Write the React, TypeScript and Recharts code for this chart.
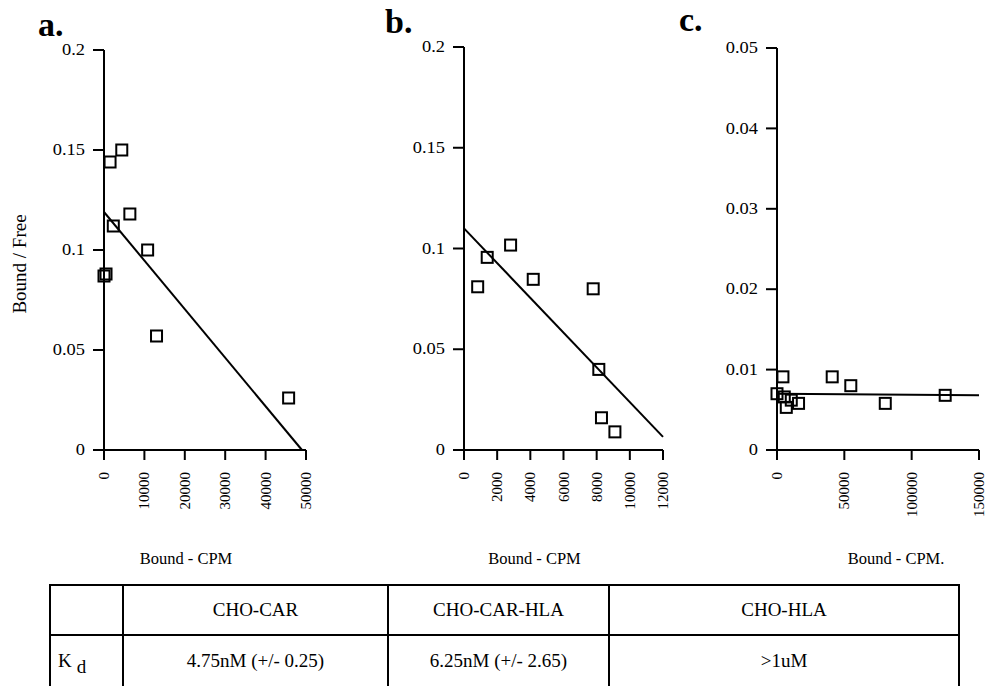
import React from "react";
import { ComposedChart, Scatter, Line, XAxis, YAxis } from "recharts";

const INK = "#000";
const SERIF = "'Liberation Serif', 'Times New Roman', serif";

// panel a: CHO-CAR
const boundA = [0, 500, 1500, 2300, 4400, 6400, 10800, 13000, 45700];
const ratioA = [0.087, 0.088, 0.144, 0.112, 0.15, 0.118, 0.1, 0.057, 0.026];
const fitBoundA = [0, 49000];
const fitRatioA = [0.119, 0];
const xTicksA = [0, 10000, 20000, 30000, 40000, 50000];
const yTicksA = [0, 0.05, 0.1, 0.15, 0.2];

// panel b: CHO-CAR-HLA
const boundB = [825, 1400, 2810, 4175, 7790, 8130, 8290, 9100];
const ratioB = [0.081, 0.0956, 0.1017, 0.0847, 0.08, 0.04, 0.016, 0.009];
const fitBoundB = [0, 12000];
const fitRatioB = [0.11, 0.0065];
const xTicksB = [0, 2000, 4000, 6000, 8000, 10000, 12000];
const yTicksB = [0, 0.05, 0.1, 0.15, 0.2];

// panel c: CHO-HLA
const boundC = [0, 4400, 5400, 6900, 10600, 16000, 41000, 54800, 80400, 124900];
const ratioC = [0.007, 0.0091, 0.0066, 0.0053, 0.0062, 0.0058, 0.0091, 0.008, 0.0058, 0.0068];
const fitBoundC = [0, 150000];
const fitRatioC = [0.007, 0.0068];
const xTicksC = [0, 50000, 100000, 150000];
const yTicksC = [0, 0.01, 0.02, 0.03, 0.04, 0.05];

// Kd table
const cellLines = ["CHO-CAR", "CHO-CAR-HLA", "CHO-HLA"];
const kdValues = ["4.75nM (+/- 0.25)", "6.25nM (+/- 2.65)", ">1uM"];

const zip = (xs: number[], ys: number[]) => xs.map((x, i) => ({ x, y: ys[i] }));

function Square(props: any) {
  const { cx, cy } = props;
  if (cx == null || cy == null) return null;
  return (
    <rect x={cx - 5.5} y={cy - 5.5} width={11} height={11} fill="none" stroke={INK} strokeWidth={2} />
  );
}

function YTick({ x, y, payload }: any) {
  return (
    <text
      transform={`translate(${x},${y}) scale(1.15,1)`}
      textAnchor="end"
      dominantBaseline="central"
      fontFamily={SERIF}
      fontSize={16}
      fill={INK}
    >
      {String(payload.value)}
    </text>
  );
}

function XTick({ x, y, payload }: any) {
  return (
    <text
      transform={`translate(${x},${y}) rotate(-90)`}
      textAnchor="end"
      dominantBaseline="central"
      fontFamily={SERIF}
      fontSize={15}
      fill={INK}
    >
      {String(payload.value)}
    </text>
  );
}

type PanelProps = {
  left: number;
  width: number;
  top: number;
  right: number;
  points: { x: number; y: number }[];
  fit: { x: number; y: number }[];
  xTicks: number[];
  yTicks: number[];
  xTitle: string;
  xTitleDx: number;
  yTitle?: string;
};

function Panel({ left, width, top, right, points, fit, xTicks, yTicks, xTitle, xTitleDx, yTitle }: PanelProps) {
  const axisStyle = { stroke: INK, strokeWidth: 2 };
  return (
    <div style={{ position: "absolute", left, top: 0 }}>
      <ComposedChart width={width} height={570} margin={{ top, right, left: 0, bottom: 0 }}>
        <XAxis
          type="number"
          dataKey="x"
          domain={[xTicks[0], xTicks[xTicks.length - 1]]}
          ticks={xTicks}
          interval={0}
          height={120}
          axisLine={axisStyle}
          tickLine={axisStyle}
          tickSize={10}
          tickMargin={12}
          tick={<XTick />}
          label={{
            value: xTitle,
            position: "insideBottom",
            offset: 6,
            dx: xTitleDx,
            fill: INK,
            fontFamily: SERIF,
            fontSize: 16.5,
          }}
        />
        <YAxis
          type="number"
          dataKey="y"
          domain={[yTicks[0], yTicks[yTicks.length - 1]]}
          ticks={yTicks}
          interval={0}
          width={104}
          axisLine={axisStyle}
          tickLine={axisStyle}
          tickSize={11}
          tickMargin={8}
          tick={<YTick />}
          label={
            yTitle
              ? {
                  content: () => (
                    <text
                      transform="translate(19,264) rotate(-90)"
                      textAnchor="middle"
                      dominantBaseline="central"
                      fontFamily={SERIF}
                      fontSize={19}
                      fill={INK}
                    >
                      {yTitle}
                    </text>
                  ),
                }
              : undefined
          }
        />
        <Line
          data={fit}
          dataKey="y"
          stroke={INK}
          strokeWidth={2}
          dot={false}
          activeDot={false}
          isAnimationActive={false}
        />
        <Scatter data={points} dataKey="y" shape={<Square />} isAnimationActive={false} />
      </ComposedChart>
    </div>
  );
}

const letterStyle: React.CSSProperties = {
  position: "absolute",
  fontFamily: SERIF,
  fontWeight: "bold",
  fontSize: 34,
  lineHeight: "34px",
  color: INK,
};

const cellBorder = `2px solid ${INK}`;

export default function App() {
  return (
    <div
      style={{
        position: "absolute",
        left: 0,
        top: 0,
        width: 987,
        height: 686,
        overflow: "hidden",
        background: "#fff",
        fontFamily: SERIF,
      }}
    >
      <Panel
        left={0}
        width={330}
        top={50}
        right={24}
        points={zip(boundA, ratioA)}
        fit={zip(fitBoundA, fitRatioA)}
        xTicks={xTicksA}
        yTicks={yTicksA}
        xTitle="Bound - CPM"
        xTitleDx={-19}
        yTitle="Bound / Free"
      />
      <Panel
        left={360}
        width={330}
        top={47}
        right={27}
        points={zip(boundB, ratioB)}
        fit={zip(fitBoundB, fitRatioB)}
        xTicks={xTicksB}
        yTicks={yTicksB}
        xTitle="Bound - CPM"
        xTitleDx={-29}
      />
      <Panel
        left={673}
        width={314}
        top={48}
        right={8}
        points={zip(boundC, ratioC)}
        fit={zip(fitBoundC, fitRatioC)}
        xTicks={xTicksC}
        yTicks={yTicksC}
        xTitle="Bound - CPM."
        xTitleDx={18}
      />

      <div style={{ ...letterStyle, left: 38, top: 8 }}>a.</div>
      <div style={{ ...letterStyle, left: 385, top: 5 }}>b.</div>
      <div style={{ ...letterStyle, left: 679, top: 3 }}>c.</div>

      <table
        style={{
          position: "absolute",
          left: 49,
          top: 584,
          borderCollapse: "collapse",
          fontFamily: SERIF,
          fontSize: 19,
          color: INK,
          tableLayout: "fixed",
        }}
      >
        <colgroup>
          <col style={{ width: 73 }} />
          <col style={{ width: 265 }} />
          <col style={{ width: 221 }} />
          <col style={{ width: 350 }} />
        </colgroup>
        <tbody>
          <tr style={{ height: 50 }}>
            <td style={{ border: cellBorder }} />
            {cellLines.map((c) => (
              <td key={c} style={{ border: cellBorder, textAlign: "center", padding: 0 }}>
                {c}
              </td>
            ))}
          </tr>
          <tr style={{ height: 60 }}>
            <td style={{ border: cellBorder, verticalAlign: "top", paddingTop: 14, paddingLeft: 7 }}>
              K<span style={{ position: "relative", top: 6, marginLeft: 5 }}>d</span>
            </td>
            {kdValues.map((v) => (
              <td
                key={v}
                style={{ border: cellBorder, textAlign: "center", verticalAlign: "top", paddingTop: 14 }}
              >
                {v}
              </td>
            ))}
          </tr>
        </tbody>
      </table>
    </div>
  );
}
